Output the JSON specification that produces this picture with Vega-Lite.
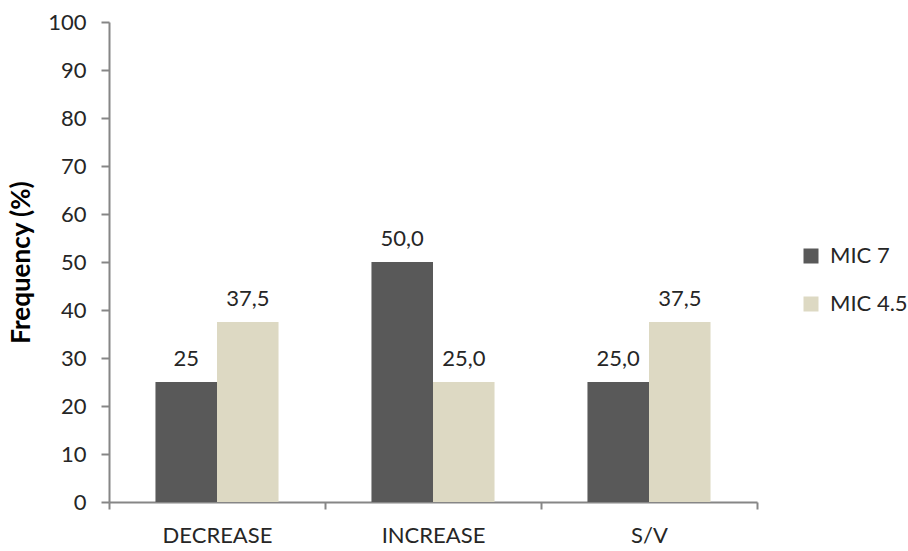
{
  "$schema": "https://vega.github.io/schema/vega-lite/v6.json",
  "width": 648,
  "height": 480,
  "autosize": {"type": "none"},
  "padding": {"left": 109, "top": 22, "right": 151, "bottom": 49},
  "background": "white",
  "config": {
    "view": {"stroke": null},
    "font": "Lato"
  },
  "data": {
    "values": [
      {"cat": "DECREASE", "series": "MIC 7", "value": 25, "label": "25"},
      {"cat": "DECREASE", "series": "MIC 4.5", "value": 37.5, "label": "37,5"},
      {"cat": "INCREASE", "series": "MIC 7", "value": 50, "label": "50,0"},
      {"cat": "INCREASE", "series": "MIC 4.5", "value": 25, "label": "25,0"},
      {"cat": "S/V", "series": "MIC 7", "value": 25, "label": "25,0"},
      {"cat": "S/V", "series": "MIC 4.5", "value": 37.5, "label": "37,5"}
    ]
  },
  "encoding": {
    "x": {
      "field": "cat", "type": "nominal", "sort": ["DECREASE", "INCREASE", "S/V"],
      "scale": {"paddingInner": 0, "paddingOuter": 0},
      "axis": {
        "title": null, "labelAngle": 0, "labelFontSize": 22, "labelColor": "#262626",
        "labelPadding": 16, "domainColor": "#868686", "domainWidth": 2,
        "tickColor": "#868686", "tickWidth": 2, "tickSize": 7, "tickBand": "extent"
      }
    },
    "xOffset": {
      "field": "series", "type": "nominal", "sort": ["MIC 7", "MIC 4.5"],
      "scale": {"paddingInner": 0, "paddingOuter": 0.755}
    },
    "y": {
      "field": "value", "type": "quantitative",
      "scale": {"domain": [0, 100], "nice": false},
      "axis": {
        "title": "Frequency (%)", "titleFontSize": 26, "titleFontWeight": "bold",
        "titleColor": "#000000", "titlePadding": 13,
        "values": [0, 10, 20, 30, 40, 50, 60, 70, 80, 90, 100],
        "labelFontSize": 22, "labelColor": "#262626", "labelPadding": 15,
        "grid": false, "domainColor": "#868686", "domainWidth": 2,
        "tickColor": "#868686", "tickWidth": 2, "tickSize": 8
      }
    }
  },
  "layer": [
    {
      "mark": {"type": "bar"},
      "encoding": {
        "color": {
          "field": "series", "type": "nominal", "sort": ["MIC 7", "MIC 4.5"],
          "scale": {"domain": ["MIC 7", "MIC 4.5"], "range": ["#595959", "#DDD9C3"]},
          "legend": {
            "title": null, "orient": "none", "legendX": 691, "legendY": 223,
            "symbolType": "square", "symbolSize": 225, "symbolStrokeWidth": 0,
            "labelFontSize": 22, "labelColor": "#262626", "labelOffset": 8,
            "rowPadding": 26
          }
        }
      }
    },
    {
      "mark": {"type": "text", "baseline": "bottom", "dy": -11, "fontSize": 22, "color": "#262626"},
      "encoding": {
        "text": {"field": "label"}
      }
    }
  ]
}
